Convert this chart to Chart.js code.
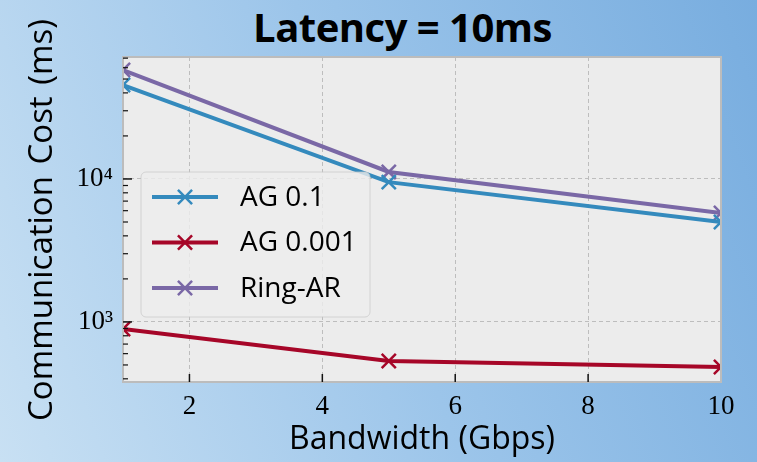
<!DOCTYPE html>
<html>
<head>
<meta charset="utf-8">
<script src="https://cdn.jsdelivr.net/npm/chart.js@4"></script>
<style>
  html, body { margin: 0; padding: 0; }
  body {
    width: 757px; height: 462px; overflow: hidden; position: relative;
    background: linear-gradient(70deg, #c8e0f3 0%, #9cc5ea 50%, #78addf 100%);
  }
  #title {
    position: absolute; left: 24px; top: 7px; width: 757px;
    text-align: center; font: 700 40px/40px "Open Sans", sans-serif; color: #000;
    letter-spacing: -0.5px;
  }
  #wrap { position: absolute; left: 0; top: 0; }
</style>
</head>
<body>
<div id="title">Latency = 10ms</div>
<div id="wrap"><canvas id="cv" width="757" height="462"></canvas></div>
<script>
  /* ── 데이터 ── */
  const bandwidth    = [1, 5, 10];
  const ag01         = [45400, 9500, 5000];
  const ag0001       = [893, 533, 484];
  const ringAr       = [57800, 11200, 5780];
  const seriesLabels = ['AG 0.1', 'AG 0.001', 'Ring-AR'];
  const seriesColors = ['#348ABD', '#A60628', '#7A68A6'];
  const xTicks       = [2, 4, 6, 8, 10];
  const yMajor       = [1000, 10000];
  const yMajorLabels = ['10³', '10⁴'];

  const SANS  = '"Open Sans", sans-serif';
  const SERIF = '"Liberation Serif", serif';

  /* y minor ticks: 2..9 × 10^k */
  const yAllTicks = [];
  [100, 1000, 10000].forEach(d => {
    for (let k = 1; k <= 9; k++) yAllTicks.push(d * k);
  });

  function pts(ys) {
    return bandwidth.map((b, i) => ({ x: b, y: ys[i] }));
  }

  const seriesData = [ag01, ag0001, ringAr];
  const datasets = seriesData.map((ys, i) => ({
    label: seriesLabels[i],
    data: pts(ys),
    borderColor: seriesColors[i],
    backgroundColor: seriesColors[i],
    borderWidth: 4,
    pointStyle: 'crossRot',
    pointRadius: 10,
    pointHoverRadius: 10,
    pointBorderWidth: 2.5,
    pointBorderColor: seriesColors[i],
    clip: 0,
  }));

  const isMajorY = v => yMajor.includes(v);

  /* ── 배경 / 테두리 / 안쪽 눈금 ── */
  const frame = {
    id: 'frame',
    beforeDraw(chart) {
      const { ctx, chartArea: a } = chart;
      ctx.save();
      ctx.fillStyle = '#ececec';
      ctx.fillRect(a.left, a.top, a.width, a.height);
      ctx.restore();
    },
    afterDatasetsDraw(chart) {
      const { ctx, chartArea: a } = chart;
      const xs = chart.scales.x, ys = chart.scales.y;
      ctx.save();
      ctx.strokeStyle = '#bcbcbc';
      ctx.lineWidth = 2;
      ctx.strokeRect(a.left, a.top, a.width, a.height);

      ctx.strokeStyle = '#111';
      ctx.lineWidth = 1.5;
      xs.ticks.forEach(t => {
        if (t.value >= 10) return;
        const px = xs.getPixelForValue(t.value);
        ctx.beginPath(); ctx.moveTo(px, a.bottom); ctx.lineTo(px, a.bottom - 8); ctx.stroke();
      });
      ys.ticks.forEach(t => {
        const py = ys.getPixelForValue(t.value);
        if (py < a.top || py > a.bottom) return;
        const len = isMajorY(t.value) ? 9 : 5;
        ctx.lineWidth = isMajorY(t.value) ? 1.5 : 1.2;
        ctx.beginPath(); ctx.moveTo(a.left, py); ctx.lineTo(a.left + len, py); ctx.stroke();
      });

      // y 축 제목 (maxWidth 압축 피하려고 직접 그림)
      ctx.fillStyle = '#000';
      ctx.font = '33px ' + SANS;
      ctx.textAlign = 'center';
      ctx.textBaseline = 'middle';
      ctx.wordSpacing = '3px';
      ctx.translate(43, 220);
      ctx.rotate(-Math.PI / 2);
      ctx.fillText('Communication Cost (ms)', 0, 0);
      ctx.restore();
    },
  };

  /* ── 범례 (축 안쪽 박스) ── */
  const boxLegend = {
    id: 'boxLegend',
    afterDraw(chart) {
      const { ctx, chartArea: a } = chart;
      const x = a.left + 18, y = a.top + 115, w = 229, h = 145;
      ctx.save();
      ctx.beginPath();
      ctx.roundRect(x, y, w, h, 5);
      ctx.fillStyle = 'rgba(238,238,238,0.8)';
      ctx.fill();
      ctx.strokeStyle = 'rgba(200,200,200,0.7)';
      ctx.lineWidth = 1;
      ctx.stroke();

      chart.data.datasets.forEach((ds, i) => {
        const cy = y + 25 + i * 45.5;
        ctx.strokeStyle = ds.borderColor;
        ctx.lineWidth = 4;
        ctx.beginPath(); ctx.moveTo(x + 11, cy); ctx.lineTo(x + 77, cy); ctx.stroke();
        ctx.lineWidth = 2.5;
        Chart.helpers.drawPoint(ctx, { pointStyle: 'crossRot', radius: 10, borderWidth: 2.5, rotation: 0 }, x + 44, cy);
        ctx.fillStyle = '#000';
        ctx.font = '28px ' + SANS;
        ctx.textAlign = 'left';
        ctx.textBaseline = 'middle';
        ctx.fillText(ds.label, x + 99, cy + 1);
      });
      ctx.restore();
    },
  };

  new Chart(document.getElementById('cv'), {
    type: 'line',
    data: { datasets },
    options: {
      responsive: false,
      animation: false,
      devicePixelRatio: 1,
      layout: { padding: { top: 57, right: 36, bottom: 0, left: 0 } },
      plugins: { legend: { display: false }, tooltip: { enabled: false }, title: { display: false } },
      scales: {
        x: {
          type: 'linear',
          min: 1, max: 10,
          afterBuildTicks: s => { s.ticks = xTicks.map(v => ({ value: v })); },
          afterFit: s => { s.height = 80; },
          ticks: {
            autoSkip: false, maxRotation: 0, padding: 9,
            color: '#000', font: { family: SERIF, size: 27 },
          },
          grid: {
            drawTicks: false, lineWidth: 1,
            color: c => (c.tick && c.tick.value < 10) ? '#bdbdbd' : 'rgba(0,0,0,0)',
          },
          border: { display: false, dash: [4, 3] },
          title: {
            display: true, text: 'Bandwidth (Gbps)', color: '#000',
            font: { family: SANS, size: 32 }, padding: { top: 0, bottom: 3 },
          },
        },
        y: {
          type: 'logarithmic',
          min: 380, max: 71300,
          afterBuildTicks: s => { s.ticks = yAllTicks.map(v => ({ value: v })); },
          afterFit: s => { s.width = 123; },
          ticks: {
            autoSkip: false, padding: 10, color: '#000',
            font: { family: SERIF, size: 27 },
            callback: v => {
              const k = yMajor.indexOf(v);
              return k >= 0 ? yMajorLabels[k] : '';
            },
          },
          grid: {
            drawTicks: false, lineWidth: 1,
            color: c => (c.tick && isMajorY(c.tick.value)) ? '#bdbdbd' : 'rgba(0,0,0,0)',
          },
          border: { display: false, dash: [4, 3] },
        },
      },
    },
    plugins: [frame, boxLegend],
  });
</script>
</body>
</html>
